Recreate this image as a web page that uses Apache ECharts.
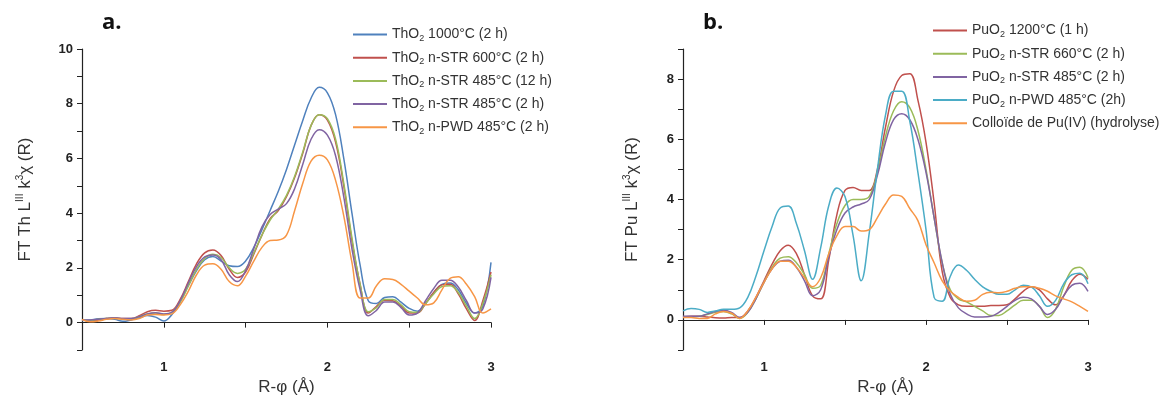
<!DOCTYPE html>
<html><head><meta charset="utf-8">
<script src="https://cdn.jsdelivr.net/npm/echarts@6/dist/echarts.min.js"></script>
<style>html,body{margin:0;padding:0;background:#fff}#c{width:1174px;height:405px}</style>
</head><body><div id="c"></div>
<script>
// Shared R grid (Å)
const R = [0.50,0.55,0.60,0.65,0.70,0.75,0.80,0.85,0.90,0.95,1.00,1.05,1.10,1.15,1.20,1.25,1.30,1.35,1.40,1.45,1.50,1.55,1.60,1.65,1.70,1.75,1.80,1.85,1.90,1.95,2.00,2.05,2.10,2.15,2.20,2.25,2.30,2.35,2.40,2.45,2.50,2.55,2.60,2.65,2.70,2.75,2.80,2.85,2.90,2.95,3.00];

// Panel a: ThO2
const namesA = ['ThO2 1000°C (2 h)','ThO2 n-STR 600°C (2 h)','ThO2 n-STR 485°C (12 h)','ThO2 n-STR 485°C (2 h)','ThO2 n-PWD 485°C (2 h)'];
const tho2_1000 = [0.08,0.10,0.14,0.15,0.12,0.05,0.10,0.18,0.26,0.20,0.06,0.30,0.75,1.35,1.90,2.30,2.42,2.25,2.08,2.05,2.25,2.75,3.40,4.10,4.80,5.60,6.50,7.40,8.20,8.60,8.40,7.60,6.00,4.00,2.10,0.80,0.70,0.92,0.95,0.75,0.52,0.42,0.70,1.10,1.40,1.45,1.20,0.70,0.35,0.60,2.20];
const tho2_str600 = [0.10,0.05,0.10,0.15,0.18,0.15,0.15,0.25,0.40,0.45,0.42,0.45,0.85,1.50,2.15,2.55,2.65,2.45,1.95,1.65,1.85,2.50,3.20,3.80,4.10,4.60,5.30,6.20,7.20,7.60,7.40,6.60,5.00,3.00,1.40,0.35,0.60,0.82,0.80,0.60,0.35,0.35,0.70,1.10,1.38,1.40,1.05,0.50,0.08,0.80,1.85];
const tho2_str485_12 = [0.10,0.08,0.12,0.15,0.16,0.14,0.14,0.22,0.32,0.35,0.30,0.38,0.75,1.35,1.95,2.35,2.50,2.38,2.00,1.80,1.95,2.55,3.20,3.75,4.15,4.65,5.35,6.25,7.20,7.60,7.45,6.70,5.10,3.10,1.40,0.40,0.55,0.85,0.85,0.65,0.40,0.38,0.70,1.05,1.32,1.35,1.10,0.60,0.15,0.70,1.75];
const tho2_str485_2 = [0.10,0.10,0.12,0.15,0.18,0.15,0.15,0.22,0.32,0.36,0.32,0.38,0.80,1.45,2.05,2.40,2.47,2.30,1.75,1.50,1.90,2.70,3.50,3.95,4.15,4.35,4.90,5.80,6.70,7.05,6.85,6.10,4.60,2.70,1.20,0.25,0.45,0.75,0.75,0.55,0.28,0.35,0.80,1.25,1.55,1.55,1.30,0.80,0.35,0.50,1.65];
const tho2_pwd = [0.12,0.03,0.06,0.12,0.15,0.12,0.10,0.15,0.28,0.30,0.28,0.32,0.65,1.15,1.75,2.10,2.15,1.95,1.50,1.35,1.70,2.25,2.75,3.00,3.02,3.20,4.10,5.10,5.90,6.12,5.95,5.20,3.90,2.20,0.90,0.90,1.35,1.60,1.58,1.40,1.15,0.90,0.65,0.72,1.20,1.62,1.68,1.40,0.95,0.35,0.50];
const dataA = [tho2_1000, tho2_str600, tho2_str485_12, tho2_str485_2, tho2_pwd];
const colorsA = ['#4F81BD','#C0504D','#9BBB59','#8064A2','#F79646'];

// Panel b: PuO2
const namesB = ['PuO2 1200°C (1 h)','PuO2 n-STR 660°C (2 h)','PuO2 n-STR 485°C (2 h)','PuO2 n-PWD 485°C (2h)','Colloïde de Pu(IV) (hydrolyse)'];
const puo2_1200 = [0.10,0.12,0.12,0.10,0.07,0.06,0.08,0.08,0.30,0.75,1.30,1.85,2.30,2.48,2.20,1.50,0.80,0.70,2.00,3.50,4.30,4.40,4.30,4.30,5.00,6.40,7.60,8.12,8.18,7.30,5.90,3.90,1.60,0.75,0.50,0.45,0.45,0.45,0.48,0.48,0.50,0.70,0.95,1.10,1.00,0.70,0.50,0.80,1.30,1.52,1.35];
const puo2_str660 = [0.10,0.10,0.12,0.18,0.25,0.28,0.20,0.05,0.25,0.70,1.25,1.75,2.05,2.10,1.90,1.50,1.05,1.15,2.20,3.20,3.80,4.00,4.00,4.10,4.90,6.10,6.95,7.25,7.05,6.30,5.00,3.40,1.90,1.00,0.70,0.60,0.45,0.30,0.15,0.15,0.30,0.50,0.65,0.65,0.45,0.08,0.35,1.10,1.65,1.75,1.40];
const puo2_str485 = [0.12,0.12,0.12,0.20,0.28,0.32,0.25,0.08,0.25,0.70,1.25,1.70,1.95,1.98,1.75,1.30,0.80,1.00,2.10,3.00,3.55,3.75,3.85,4.00,4.80,5.90,6.65,6.85,6.65,6.00,4.90,3.40,1.90,0.85,0.40,0.20,0.10,0.10,0.12,0.25,0.45,0.65,0.75,0.70,0.45,0.18,0.35,0.80,1.15,1.22,0.95];
const puo2_pwd = [0.30,0.38,0.35,0.25,0.30,0.35,0.35,0.40,0.75,1.45,2.30,3.10,3.72,3.78,3.20,2.30,1.35,2.40,3.80,4.38,4.10,2.80,1.30,2.90,5.00,6.80,7.60,7.60,6.60,4.90,3.00,0.75,0.62,1.45,1.82,1.65,1.35,1.10,0.95,0.85,0.85,1.00,1.15,1.10,0.80,0.45,0.65,1.20,1.50,1.55,1.20];
const pu_colloid = [0.08,0.08,0.05,0.05,0.20,0.28,0.22,0.05,0.30,0.75,1.25,1.70,1.95,1.95,1.75,1.40,1.10,1.40,2.20,2.80,3.10,3.10,2.95,3.00,3.40,3.85,4.15,4.10,3.70,3.30,2.50,1.90,1.30,0.95,0.75,0.62,0.65,0.85,0.92,0.90,0.95,1.05,1.10,1.10,1.05,0.95,0.80,0.70,0.60,0.45,0.28];
const dataB = [puo2_1200, puo2_str660, puo2_str485, puo2_pwd, pu_colloid];
const colorsB = ['#C0504D','#9BBB59','#8064A2','#4BACC6','#F79646'];

const xTickLabels = [1,2,3];
const yTickLabels = [0,2,4,6,8,10];

const chart = echarts.init(document.getElementById('c'));
const FONT = '"Liberation Sans", Arial, sans-serif';
const TXT = '#333';

function xAxisCfg(gi){
  return {
    type:'value', gridIndex:gi, min:0.5, max:3, interval:0.5,
    name:'R-φ (Å)', nameLocation:'middle', nameGap:29,
    nameTextStyle:{fontFamily:FONT, fontSize:17, color:TXT},
    axisLine:{show:true, lineStyle:{color:'#222', width:1.2}},
    axisTick:{show:true, inside:false, length:5, lineStyle:{color:'#222'}},
    axisLabel:{fontFamily:FONT, fontWeight:'bold', fontSize:13, color:'#222', margin:11,
      formatter:function(v){ return xTickLabels.indexOf(Math.round(v*1000)/1000)>=0 ? String(v) : ''; }},
    splitLine:{show:false}
  };
}
function yAxisCfg(gi, max, nm, gap){
  return {
    type:'value', gridIndex:gi, min:-1, max:max, interval:1,
    name:nm, nameLocation:'middle', nameGap:gap, nameRotate:90,
    nameTextStyle:{fontFamily:FONT, fontSize:17, color:TXT,
      rich:{sup:{fontFamily:FONT, fontSize:10, color:TXT, verticalAlign:'top', lineHeight:20, padding:[0,0,9,0]}}},
    axisLine:{show:true, lineStyle:{color:'#222', width:1.2}},
    axisTick:{show:true, inside:false, length:5, lineStyle:{color:'#222'}},
    axisLabel:{fontFamily:FONT, fontWeight:'bold', fontSize:13, color:'#222', margin:9,
      formatter:function(v){ return yTickLabels.indexOf(v)>=0 ? String(v) : ''; }},
    splitLine:{show:false}
  };
}

const series = [];
namesA.forEach((n,i)=>{
  series.push({name:n, type:'line', xAxisIndex:0, yAxisIndex:0, smooth:0.4, showSymbol:false,
    lineStyle:{width:1.5, color:colorsA[i]}, itemStyle:{color:colorsA[i]},
    data:R.map((x,j)=>[x, dataA[i][j]])});
});
namesB.forEach((n,i)=>{
  series.push({name:n+' ', type:'line', xAxisIndex:1, yAxisIndex:1, smooth:0.4, showSymbol:false,
    lineStyle:{width:1.5, color:colorsB[i]}, itemStyle:{color:colorsB[i]},
    data:R.map((x,j)=>[x, dataB[i][j]])});
});

function legendFmt(name){ return name.trim().replace('O2','O{sub|2}'); }
const legendText = {fontFamily:FONT, fontSize:14, color:TXT, lineHeight:17,
  rich:{sub:{fontFamily:FONT, fontSize:9, color:TXT, verticalAlign:'bottom', lineHeight:17, padding:[7,0,0,0]}}};

chart.setOption({
  animation:false,
  backgroundColor:'#fff',
  title:[
    {text:'a.', left:97, top:7, textStyle:{fontFamily:'"Open Sans", '+FONT, fontSize:22, fontWeight:'bold', color:'#111'}},
    {text:'b.', left:698, top:7, textStyle:{fontFamily:'"Open Sans", '+FONT, fontSize:22, fontWeight:'bold', color:'#111'}}
  ],
  grid:[
    {left:82, top:49, width:409, height:301},
    {left:683, top:49, width:405, height:301}
  ],
  xAxis:[xAxisCfg(0), xAxisCfg(1)],
  yAxis:[
    yAxisCfg(0, 10, 'FT Th L{sup|III} k{sup|3}χ (R)', 47),
    yAxisCfg(1, 9, 'FT Pu L{sup|III} k{sup|3}χ (R)', 41)
  ],
  legend:[
    {data:namesA, orient:'vertical', left:353, top:26, padding:0, itemWidth:34, itemHeight:2, itemGap:6.2,
      icon:'rect', formatter:legendFmt, textStyle:legendText},
    {data:namesB.map(n=>n+' '), orient:'vertical', left:933, top:22, padding:0, itemWidth:34, itemHeight:2, itemGap:6.2,
      icon:'rect', formatter:legendFmt, textStyle:legendText}
  ],
  series:series
});
</script></body></html>
